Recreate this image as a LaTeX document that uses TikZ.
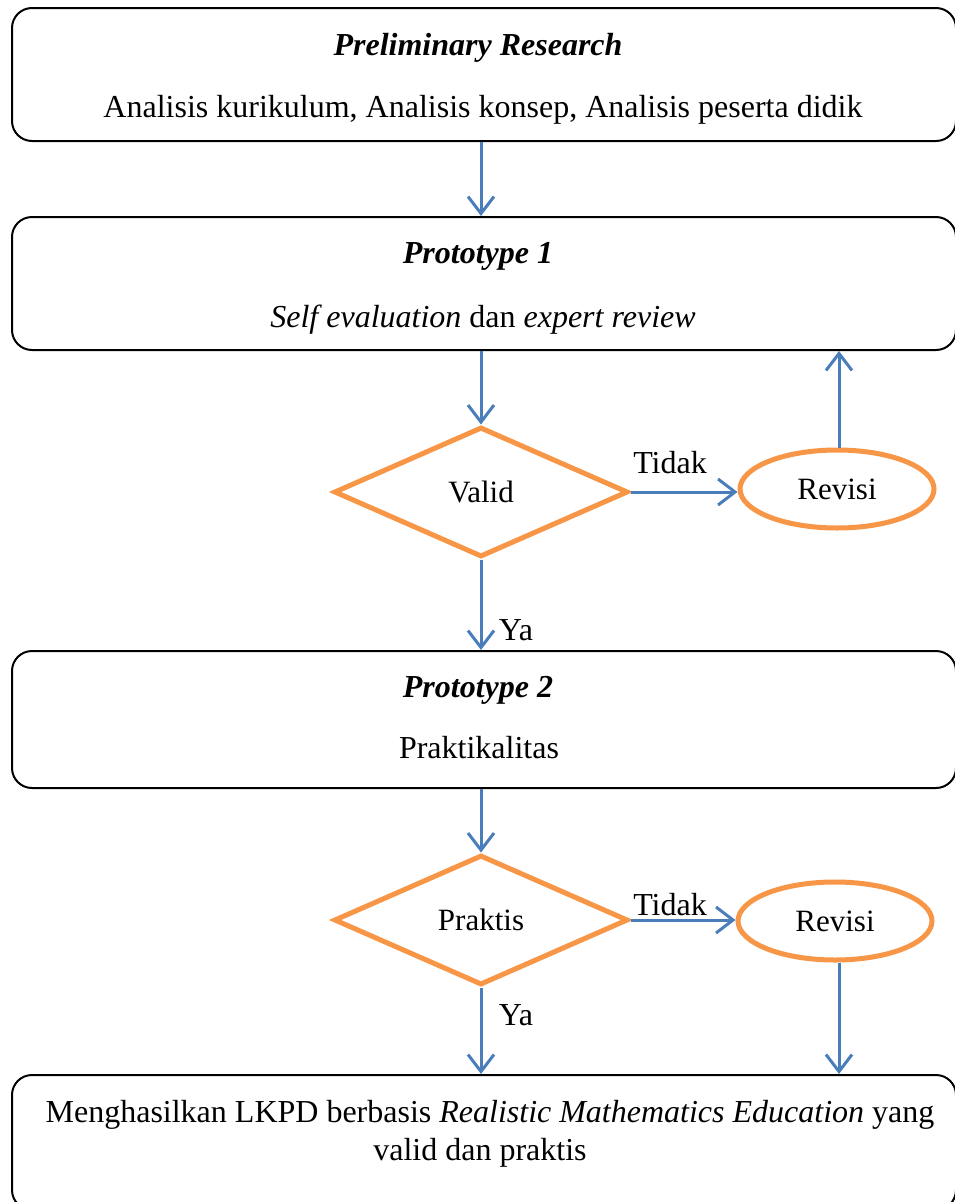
\documentclass[tikz,border=0pt]{standalone}
\usepackage{fontspec}
\setmainfont{Liberation Serif}
\usetikzlibrary{shapes.geometric,arrows.meta}
\definecolor{flowblue}{RGB}{74,126,187}
\definecolor{floworange}{RGB}{247,150,70}
\tikzset{
  stagebox/.style={draw=black, line width=2pt, rounded corners=20pt,
    minimum width=944pt, inner sep=0pt},
  decision/.style={diamond, draw=floworange, line width=5pt, fill=white,
    minimum width=294pt, minimum height=130pt, inner sep=0pt, font=\fontsize{31}{36}\selectfont},
  revision/.style={ellipse, draw=floworange, line width=5pt, fill=white,
    minimum width=194pt, minimum height=78pt, inner sep=0pt, font=\fontsize{31}{36}\selectfont},
  txt/.style={anchor=base, inner sep=0pt, font=\fontsize{32}{38}\selectfont},
  flow/.style={draw=flowblue, line width=3pt,
    -{Straight Barb[length=17pt,width=26pt]}},
}
\begin{document}
\begin{tikzpicture}[x=1pt,y=-1pt]
\clip (0,0) rectangle (955,1202);
\fill[white] (0,0) rectangle (955,1202);

% stage boxes
\node[stagebox, minimum height=133pt] (b1) at (484,74.5) {};
\node[stagebox, minimum height=133pt] (b2) at (484,283.5) {};
\node[stagebox, minimum height=137pt] (b3) at (484,719.5) {};
\node[stagebox, minimum height=135pt] (b4) at (484,1142.5) {};

% texts of the stage boxes
\node[txt] (b1a) at (478,55) {\textbf{\textit{Preliminary Research}}};
\node[txt] (b1b) at (483,117) {Analisis kurikulum, Analisis konsep, Analisis peserta didik};
\node[txt] (b2a) at (478,263) {\textbf{\textit{Prototype 1}}};
\node[txt] (b2b) at (483,327) {\textit{Self evaluation} dan \textit{expert review}};
\node[txt] (b3a) at (478,697) {\textbf{\textit{Prototype 2}}};
\node[txt] (b3b) at (479,758) {Praktikalitas};
\node[txt] (b4a) at (490,1122) {Menghasilkan LKPD berbasis \textit{Realistic Mathematics Education} yang};
\node[txt] (b4b) at (480,1160) {valid dan praktis};

% decisions and revisions
\node[decision] (d1) at (481,492) {Valid};
\node[decision] (d2) at (481,920) {Praktis};
\node[revision] (r1) at (837,489) {\raisebox{-6pt}{Revisi}};
\node[revision] (r2) at (835,921) {\raisebox{-6pt}{Revisi}};

% connectors
\coordinate (up1) at (839,0);
\draw[flow] (b1.south -| d1) -- (b2.north -| d1);
\draw[flow] (b2.south -| d1) -- (d1.north);
\draw[flow] (d1.east) -- (d1.east -| r1.west);
\draw[flow] (r1.north -| up1) -- (b2.south -| up1);
\draw[flow] (d1.south) -- (b3.north -| d1);
\draw[flow] (b3.south -| d1) -- (d2.north);
\draw[flow] (d2.east) -- (d2.east -| r2.west);
\draw[flow] (r2.south -| up1) -- (b4.north -| up1);
\draw[flow] (d2.south) -- (b4.north -| d2);

% branch labels
\node[txt] (t1) at (670,473) {Tidak};
\node[txt] (t2) at (670,915) {Tidak};
\node[txt] (y1) at (516,640) {Ya};
\node[txt] (y2) at (516,1025) {Ya};
\end{tikzpicture}
\end{document}
